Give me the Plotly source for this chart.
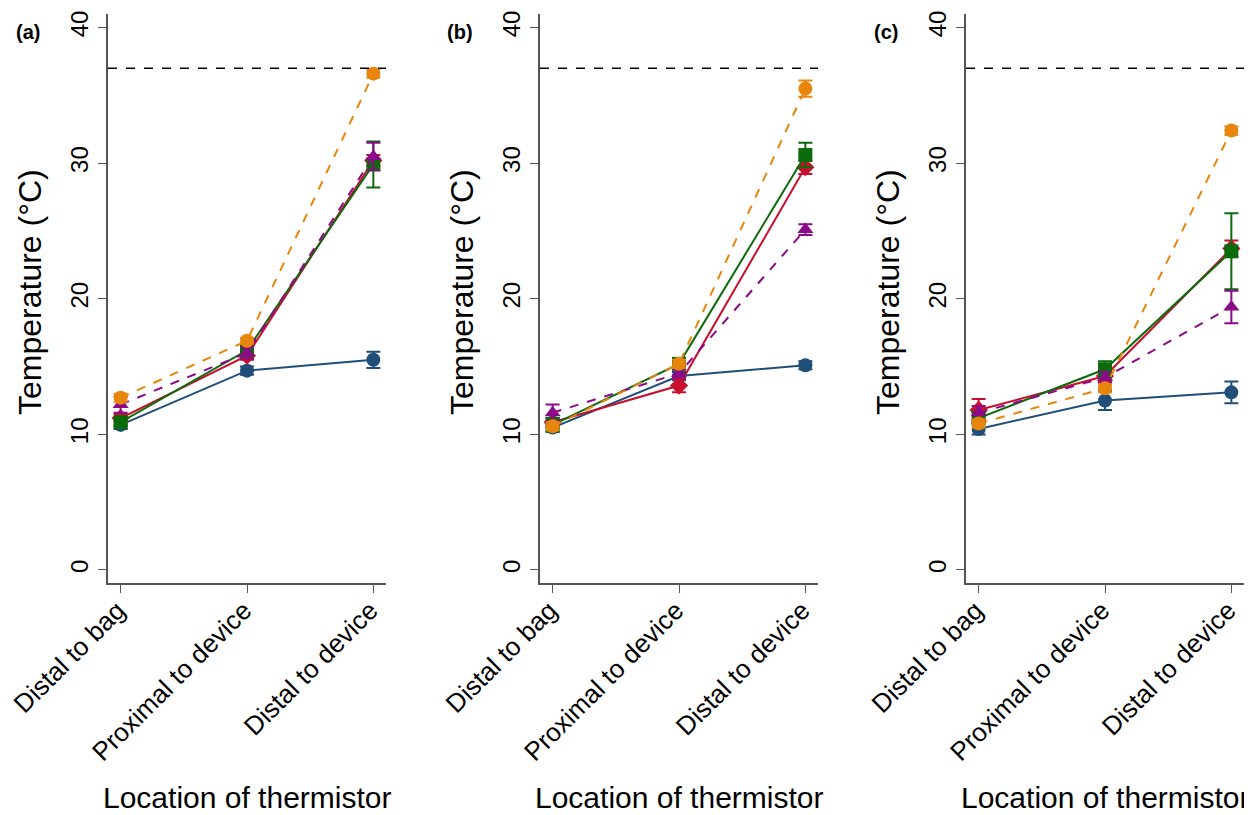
import plotly.graph_objects as go

locations = ["Distal to bag", "Proximal to device", "Distal to device"]
panels = ["(a)", "(b)", "(c)"]

# series values per panel: [panel a, panel b, panel c]
blue_vals   = [[10.7, 14.7, 15.5], [10.5, 14.3, 15.1], [10.4, 12.5, 13.1]]
blue_err    = [[0.3, 0.3, 0.6],    [0.3, 0.3, 0.3],    [0.4, 0.7, 0.8]]
red_vals    = [[11.2, 15.8, 30.2], [10.9, 13.6, 29.7], [11.8, 14.3, 23.7]]
red_err     = [[0.3, 0.3, 0.4],    [0.3, 0.5, 0.5],    [0.8, 0.4, 0.6]]
green_vals  = [[10.9, 16.2, 29.9], [10.7, 15.2, 30.6], [11.2, 14.8, 23.5]]
green_err   = [[0.3, 0.3, 1.7],    [0.5, 0.3, 0.9],    [0.4, 0.6, 2.8]]
purple_vals = [[12.2, 16.0, 30.5], [11.6, 14.5, 25.1], [11.6, 14.2, 19.4]]
purple_err  = [[0.6, 0.4, 1.0],    [0.6, 0.3, 0.4],    [0.5, 0.4, 1.2]]
orange_vals = [[12.7, 16.9, 36.6], [10.6, 15.2, 35.5], [10.8, 13.4, 32.4]]
orange_err  = [[0.3, 0.2, 0.3],    [0.3, 0.3, 0.6],    [0.3, 0.3, 0.3]]
reference_temp = 37

series = [
    ("blue", blue_vals, blue_err, "#1f4e79", "circle", "solid"),
    ("red", red_vals, red_err, "#c8102e", "diamond", "solid"),
    ("green", green_vals, green_err, "#0b6b0b", "square", "solid"),
    ("purple", purple_vals, purple_err, "#8b0a8b", "triangle-up", "dash"),
    ("orange", orange_vals, orange_err, "#e8850c", "circle", "dash"),
]

# page body has an 8px margin; figure sized so it fits in the window
OFF = 8
W, H = 1244, 807

def fx(px):
    return (px - OFF) / W

def fy(py):
    return 1 - (py - OFF) / H

x_dom_px = [(108, 386), (540, 818), (966, 1244)]
y_top_px, y_bot_px = 14, 583

fig = go.Figure()
axis_col = "#555555"
font_family = "Liberation Sans, Arial, sans-serif"

for i in range(3):
    xa = "x" if i == 0 else f"x{i+1}"
    ya = "y" if i == 0 else f"y{i+1}"
    for name, vals, errs, col, sym, dash in series:
        fig.add_trace(go.Scatter(
            x=[0, 1, 2], y=vals[i], mode="lines+markers", name=name,
            xaxis=xa, yaxis=ya, showlegend=False,
            line=dict(color=col, width=2, dash=dash),
            marker=dict(symbol=sym, size=14, color=col),
            error_y=dict(type="data", array=errs[i], color=col, thickness=2, width=7),
        ))
    # reference line at 37
    fig.add_trace(go.Scatter(
        x=[-0.1, 2.1], y=[reference_temp, reference_temp], mode="lines",
        xaxis=xa, yaxis=ya, showlegend=False, hoverinfo="skip",
        line=dict(color="black", width=1.5, dash="dash"),
    ))
    xk = "xaxis" if i == 0 else f"xaxis{i+1}"
    yk = "yaxis" if i == 0 else f"yaxis{i+1}"
    x0, x1 = x_dom_px[i]
    fig.layout[xk] = dict(
        domain=[fx(x0), fx(x1)], anchor=ya, range=[-0.1, 2.1],
        tickvals=[0, 1, 2], ticktext=locations, tickangle=-45,
        showline=True, linecolor=axis_col, linewidth=2, ticks="outside",
        ticklen=8, tickcolor=axis_col, showgrid=False, zeroline=False,
        automargin=False, ticklabelstandoff=-8, ticklabelshift=-3,
        ticklabeloverflow="allow",
        tickfont=dict(size=26, color="black", family=font_family),
    )
    fig.layout[yk] = dict(
        domain=[fy(y_bot_px), fy(y_top_px)], anchor=xa, range=[-0.96, 41],
        tickvals=[0, 10, 20, 30, 40], tickangle=-90,
        showline=True, linecolor=axis_col, linewidth=2, ticks="outside",
        ticklen=8, tickcolor=axis_col, showgrid=False, zeroline=False,
        automargin=False, ticklabeloverflow="allow",
        tickfont=dict(size=24, color="black", family=font_family),
    )
    # panel label
    fig.add_annotation(
        text=f"<b>{panels[i]}</b>", xref="paper", yref="paper",
        x=fx(x0 - 80), y=fy(32), showarrow=False,
        font=dict(size=20, color="black", family=font_family),
        xanchor="center", yanchor="middle",
    )
    # y-axis title
    fig.add_annotation(
        text="Temperature (°C)", xref="paper", yref="paper",
        x=fx(x0 - 78), y=fy(292), showarrow=False, textangle=-90,
        font=dict(size=32, color="black", family=font_family),
        xanchor="center", yanchor="middle",
    )
    # x-axis title
    fig.add_annotation(
        text="Location of thermistor", xref="paper", yref="paper",
        x=fx((x0 + x1) / 2), y=fy(797), showarrow=False,
        font=dict(size=30, color="black", family=font_family),
        xanchor="center", yanchor="middle",
    )

fig.update_layout(
    width=W, height=H, margin=dict(l=0, r=0, t=0, b=0),
    plot_bgcolor="white", paper_bgcolor="white",
)

fig.write_html("out.html")
